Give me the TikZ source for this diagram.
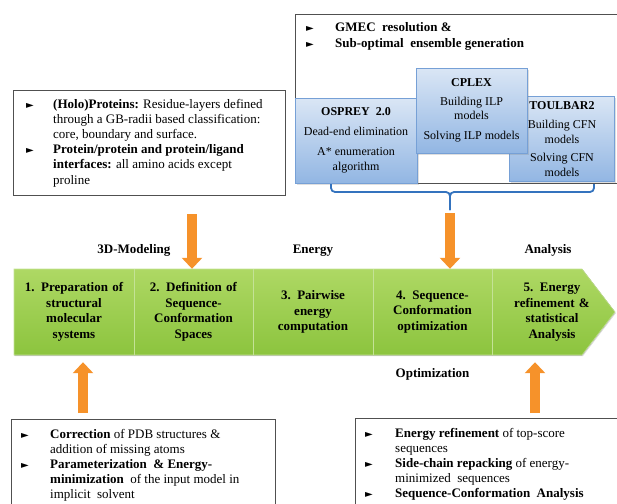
\documentclass[tikz,border=0pt]{standalone}
\usepackage{fontspec}
\setmainfont{Liberation Serif}
\newfontfamily\symfont{DejaVu Sans}
\usetikzlibrary{positioning,arrows.meta,shadows}

\definecolor{leaftop}{RGB}{174,216,100}
\definecolor{leafbot}{RGB}{140,196,62}
\definecolor{leafline}{RGB}{196,226,150}
\definecolor{skytop}{RGB}{218,230,245}
\definecolor{skybot}{RGB}{146,182,227}
\definecolor{skyline}{RGB}{118,160,214}
\definecolor{bracecol}{RGB}{52,115,190}
\definecolor{tangerine}{RGB}{246,146,42}
\definecolor{boxline}{RGB}{80,80,80}

\newcommand\bul{{\symfont\fontsize{10}{10}\selectfont ►}}

\begin{document}
\begin{tikzpicture}
	[x=1pt, y=-1pt, node distance={119.5pt},
	seg/.style = {minimum width=119.5pt, minimum height=86pt, inner sep=0pt, text width=114pt, align=center, font=\fontsize{13}{15.5}\selectfont\bfseries},
	lbl/.style = {inner sep=0pt, font=\fontsize{13}{15}\selectfont\bfseries},
	listbox/.style = {draw=boxline, line width=1.1pt, fill=white, inner sep=0pt, anchor=north west},
	listtext/.style = {inner sep=0pt, font=\fontsize{13}{15.2}\selectfont},
	tool/.style = {draw=skyline, line width=0.6pt, top color=skytop, bottom color=skybot, align=center, inner sep=0pt, font=\fontsize{12}{14.5}\selectfont, drop shadow={shadow xshift=1.5pt, shadow yshift=-1.5pt, opacity=0.25}},
	chevron/.style = {draw=leafline, line width=0.6pt, top color=leaftop, bottom color=leafbot, drop shadow={shadow xshift=0.8pt, shadow yshift=-1.2pt, opacity=0.3}},
	divider/.style = {draw=leafline, line width=0.7pt},
	fatarrow/.style = {line width=10pt, draw=tangerine, -{Triangle[length=11pt, width=20pt]}},
	bracket/.style = {draw=bracecol, line width=1.8pt, rounded corners=4pt}]
	\useasboundingbox (0,0) rectangle (617,503);
	\clip (0,0) rectangle (617,503);
	\node[listbox, minimum width=330pt, minimum height=169pt] (gmec) at (295,14) {};
	\node[listtext, below right=7pt and 11pt of gmec.north west] (goals) {\begin{tabular}{@{}p{29pt}@{}l@{}}
		\bul & \textbf{GMEC\ \ resolution \&}\\
		\bul & \textbf{Sub-optimal\ \ ensemble generation}
	\end{tabular}};
	\node[tool, minimum width=122pt, minimum height=85pt] (osprey) at (356,140.5) {\textbf{OSPREY\ \ 2.0}\\[5pt] Dead-end elimination\\[6pt] A* enumeration\\ algorithm};
	\node[tool, minimum width=105pt, minimum height=85pt] (toulbar) at (562,139) {\textbf{TOULBAR2}\\[5pt] Building CFN\\ models\\[4pt] Solving CFN\\ models};
	\node[tool, minimum width=111pt, minimum height=85pt] (cplex) at (471.5,110.5) {\textbf{CPLEX}\\[4pt] Building ILP\\ models\\[5pt] Solving ILP models};
	\coordinate (bl) at (331,184);
	\coordinate (br) at (594,184);
	\coordinate (bm) at (450,192);
	\coordinate (bt) at (450,210);
	\draw[bracket] (bl) |- (bm) -- (bt);
	\draw[bracket] (br) |- (bm) -- (bt);
	\node[listbox, minimum width=272pt, minimum height=105pt] (holo) at (13,90) {};
	\node[listtext, right=13pt of holo.west] (holotext) {\begin{tabular}{@{}p{27pt}@{}l@{}}
		\bul & \textbf{(Holo)Proteins:} Residue-layers defined\\
		& through a GB-radii based classification:\\
		& core, boundary and surface.\\
		\bul & \textbf{Protein/protein and protein/ligand}\\
		& \textbf{interfaces:} all amino acids except\\
		& proline
	\end{tabular}};
	\fill[chevron] (14,269) -- (582,269) -- (615,312) -- (582,355) -- (14,355) -- cycle;
	\node[seg] (s1) at (74,312) {1. Preparation of\\ structural\\ molecular\\ systems};
	\node[seg] (s2) [right of = s1] {2. Definition of\\ Sequence-\\ Conformation\\ Spaces};
	\node[seg] (s3) [right of = s2] {3. Pairwise\\ energy\\ computation};
	\node[seg] (s4) [right of = s3] {4. Sequence-\\ Conformation\\ optimization};
	\node[seg] (s5) [right of = s4] {5. Energy\\ refinement \&\\ statistical\\ Analysis};
	\foreach \i in {1,...,4}
		\draw[divider] (s\i.north east) -- (s\i.south east);
	\node[lbl, above=12pt of s1.north east] (modeling) {3D-Modeling};
	\node[lbl, above=12pt of s3] (energy) {Energy};
	\node[lbl, above=12pt of s5.north west, xshift=56pt] (analysis) {Analysis};
	\node[lbl, below=13pt of s4] (optim) {Optimization};
	\node[listbox, minimum width=264pt, minimum height=92pt] (prep) at (11,419) {};
	\node[listtext, right=10pt of prep.west] (preptext) {\begin{tabular}{@{}p{29pt}@{}l@{}}
		\bul & \textbf{Correction} of PDB structures \&\\
		& addition of missing atoms\\
		\bul & \textbf{Parameterization\ \ \& Energy-}\\
		& \textbf{minimization}\ \ of the input model in\\
		& implicit\ \ solvent
	\end{tabular}};
	\node[listbox, minimum width=280pt, minimum height=92pt] (refine) at (355,418) {};
	\node[listtext, right=10pt of refine.west] (refinetext) {\begin{tabular}{@{}p{30pt}@{}l@{}}
		\bul & \textbf{Energy refinement} of top-score\\
		& sequences\\
		\bul & \textbf{Side-chain repacking} of energy-\\
		& minimized\ \ sequences\\
		\bul & \textbf{Sequence-Conformation\ \ Analysis}
	\end{tabular}};
	\coordinate (d2) at (192,214);
	\coordinate (d4) at (450,213);
	\coordinate (u1) at (83,413);
	\coordinate (u5) at (535,413);
	\draw[fatarrow] (d2) -- (d2 |- s2.north);
	\draw[fatarrow] (d4) -- (d4 |- s4.north);
	\draw[fatarrow, shorten >=7pt] (u1) -- (u1 |- s1.south);
	\draw[fatarrow, shorten >=7pt] (u5) -- (u5 |- s5.south);
\end{tikzpicture}
\end{document}
